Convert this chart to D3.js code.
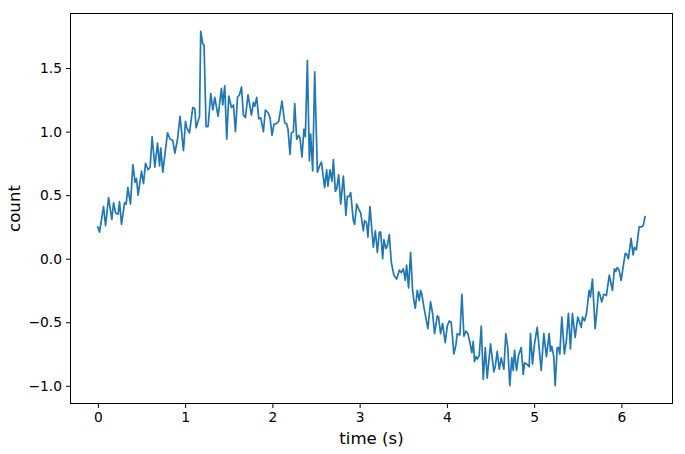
<!DOCTYPE html>
<html><head><meta charset="utf-8">
<script src="https://cdn.jsdelivr.net/npm/d3@7"></script>
<style>body{margin:0;background:#fff}svg{display:block}text{font-family:"DejaVu Sans",sans-serif;fill:#000}</style>
</head><body><svg id="c" width="685" height="454"></svg>
<script>
const time = [0.000,0.019,0.065,0.088,0.123,0.160,0.180,0.203,0.232,0.248,0.271,0.306,0.324,0.344,0.374,0.401,0.427,0.443,0.461,0.500,
0.523,0.546,0.576,0.599,0.622,0.653,0.684,0.707,0.721,0.744,0.798,0.828,0.859,0.882,0.913,0.942,0.981,1.004,1.019,1.050,
1.088,1.111,1.126,1.165,1.179,1.202,1.217,1.240,1.263,1.294,1.317,1.340,1.378,1.416,1.431,1.454,1.477,1.500,1.531,1.554,
1.577,1.600,1.623,1.646,1.668,1.691,1.721,1.760,1.783,1.798,1.821,1.844,1.866,1.897,1.920,1.950,1.973,1.996,2.019,2.042,
2.073,2.110,2.141,2.164,2.179,2.202,2.218,2.241,2.256,2.279,2.302,2.317,2.339,2.362,2.378,2.401,2.424,2.439,2.462,2.485,
2.516,2.546,2.562,2.599,2.622,2.637,2.660,2.683,2.699,2.722,2.737,2.760,2.783,2.813,2.843,2.859,2.882,2.897,2.928,2.943,
2.966,2.989,3.012,3.042,3.057,3.080,3.095,3.118,3.157,3.180,3.203,3.226,3.241,3.264,3.278,3.301,3.317,3.340,3.363,3.393,
3.424,3.455,3.478,3.501,3.523,3.538,3.561,3.584,3.607,3.622,3.638,3.661,3.684,3.699,3.713,3.744,3.782,3.813,3.836,3.859,
3.890,3.905,3.928,3.951,3.981,4.004,4.027,4.050,4.080,4.103,4.119,4.149,4.172,4.195,4.218,4.241,4.264,4.286,4.302,4.317,
4.332,4.348,4.371,4.394,4.417,4.440,4.462,4.500,4.538,4.554,4.577,4.600,4.623,4.653,4.675,4.698,4.721,4.744,4.760,4.775,
4.798,4.821,4.852,4.875,4.890,4.920,4.943,4.958,4.981,5.004,5.035,5.058,5.081,5.111,5.141,5.172,5.187,5.202,5.225,5.241,
5.264,5.279,5.294,5.317,5.347,5.370,5.393,5.416,5.439,5.470,5.500,5.516,5.539,5.554,5.577,5.600,5.630,5.645,5.668,5.699,
5.722,5.737,5.752,5.775,5.798,5.828,5.861,5.897,5.920,5.935,5.951,5.974,5.997,6.043,6.057,6.080,6.111,6.134,6.149,6.172,
6.203,6.233,6.249,6.272];
const count = [0.25,0.21,0.41,0.26,0.48,0.31,0.44,0.36,0.35,0.45,0.27,0.44,0.43,0.56,0.43,0.74,0.60,0.63,0.50,0.69,
0.59,0.75,0.70,0.72,0.96,0.72,0.91,0.73,0.87,0.68,0.99,0.94,0.93,0.83,0.94,1.12,0.85,1.08,1.03,0.99,
1.19,1.18,1.03,1.12,1.79,1.69,1.68,1.04,1.04,1.30,1.17,1.27,1.12,1.34,1.21,1.36,0.94,1.28,1.19,1.21,
1.00,1.27,1.29,1.35,1.13,1.11,1.29,1.13,1.23,1.20,1.27,1.10,1.11,1.00,1.17,1.15,1.11,0.97,1.06,1.06,
1.08,1.24,1.07,1.06,1.02,0.82,0.99,1.00,1.22,0.94,0.97,0.95,0.80,1.02,0.96,1.56,0.77,0.98,0.69,1.47,
0.68,0.74,0.76,0.56,0.70,0.57,0.70,0.61,0.78,0.53,0.55,0.66,0.43,0.65,0.34,0.49,0.49,0.52,0.30,0.27,
0.43,0.39,0.36,0.22,0.30,0.28,0.17,0.41,0.09,0.22,0.05,0.21,0.21,0.00,0.15,0.08,0.10,0.19,-0.03,-0.13,
-0.16,-0.09,-0.11,-0.08,-0.17,-0.05,-0.23,0.05,-0.25,-0.33,-0.39,-0.25,-0.33,-0.25,-0.28,-0.41,-0.55,-0.34,-0.43,-0.59,
-0.45,-0.46,-0.59,-0.51,-0.66,-0.53,-0.49,-0.50,-0.75,-0.68,-0.59,-0.60,-0.28,-0.61,-0.57,-0.59,-0.66,-0.74,-0.65,-0.81,
-0.77,-0.79,-0.76,-0.53,-0.95,-0.70,-0.94,-0.67,-0.89,-0.85,-0.73,-0.87,-0.78,-0.87,-0.59,-0.70,-1.00,-0.78,-0.88,-0.72,
-0.88,-0.76,-0.70,-0.91,-0.82,-0.83,-0.85,-0.59,-0.83,-0.67,-0.54,-0.71,-0.88,-0.59,-0.77,-0.59,-0.73,-0.69,-0.77,-1.00,
-0.70,-0.70,-0.75,-0.46,-0.75,-0.64,-0.43,-0.71,-0.43,-0.62,-0.46,-0.49,-0.54,-0.46,-0.49,-0.43,-0.25,-0.30,-0.16,-0.55,
-0.39,-0.26,-0.28,-0.34,-0.28,-0.29,-0.13,-0.25,-0.08,-0.10,-0.07,-0.09,-0.17,0.04,0.04,0.00,0.16,0.03,0.09,0.07,
0.25,0.25,0.26,0.33];
const xTicks = [0,1,2,3,4,5,6];
const yTicks = [-1.0,-0.5,0.0,0.5,1.0,1.5];
const xLabel = "time (s)", yLabel = "count";

const svg = d3.select("#c");
const L = 70.5, R = 672.5, T = 13.5, B = 403.5;
const xe = d3.extent(time), ye = d3.extent(count);
const xm = (xe[1]-xe[0])*0.05, ym = (ye[1]-ye[0])*0.05;
const x = d3.scaleLinear().domain([xe[0]-xm, xe[1]+xm]).range([L, R]);
const y = d3.scaleLinear().domain([ye[0]-ym, ye[1]+ym]).range([B, T]);

const data = time.map((t,i)=>[t,count[i]]);
svg.append("path").datum(data)
  .attr("fill","none").attr("stroke","#1f77b4").attr("stroke-width",1.7)
  .attr("stroke-linejoin","round").attr("stroke-linecap","square")
  .attr("d", d3.line().x(d=>x(d[0])).y(d=>y(d[1])));

svg.append("rect").attr("x",L).attr("y",T).attr("width",R-L).attr("height",B-T)
  .attr("fill","none").attr("stroke","#000").attr("stroke-width",1);

const xa = svg.append("g").attr("transform",`translate(0,${B})`)
  .call(d3.axisBottom(x).tickValues(xTicks).tickFormat(d3.format("d")).tickSize(4.5).tickPadding(4));
const ya = svg.append("g").attr("transform",`translate(${L},0)`)
  .call(d3.axisLeft(y).tickValues(yTicks).tickFormat(d=>d3.format(".1f")(d).replace("-","\u2212")).tickSize(4.5).tickPadding(4));
[xa,ya].forEach(a=>{
  a.select(".domain").remove();
  a.selectAll("line").attr("stroke","#000");
  a.selectAll("text").style("font-size","13.8px").style("font-family","DejaVu Sans").attr("fill","#000");
});

svg.append("text").attr("x",(L+R)/2).attr("y",444).attr("text-anchor","middle")
  .style("font-size","16.6px").text(xLabel);
svg.append("text").attr("transform",`translate(20,${(T+B)/2}) rotate(-90)`).attr("text-anchor","middle")
  .style("font-size","16.6px").text(yLabel);
</script></body></html>
